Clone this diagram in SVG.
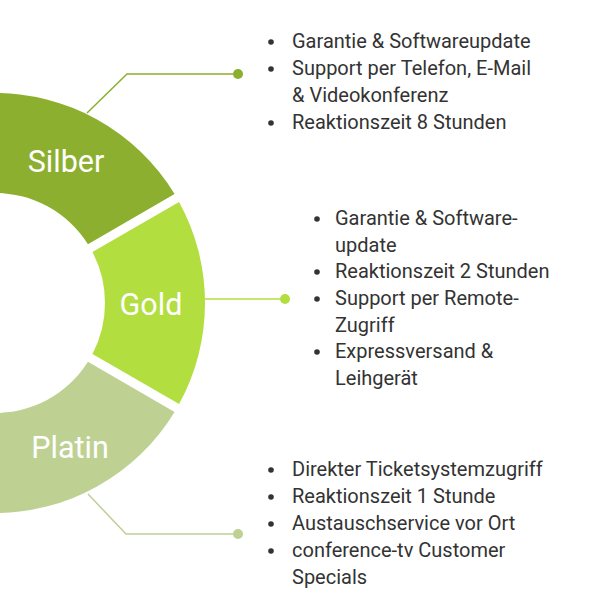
<svg xmlns="http://www.w3.org/2000/svg" width="600" height="600" viewBox="0 0 600 600">
<style>
.lbl{font-family:Roboto,"Liberation Sans",sans-serif;font-size:30.5px;fill:#ffffff;text-anchor:middle}
.txt{font-family:Roboto,"Liberation Sans",sans-serif;font-size:20px;fill:#333333}
.conn{fill:none;stroke-width:1.5}
</style>
<rect width="600" height="600" fill="#ffffff"/>
<g id="silber">
<path d="M -186.87 198 A 210 210 0 0 1 174.58 194.10 L 87.93 244.15 A 110 110 0 0 0 -100.26 248 Z" fill="#8CAF30"/>
<text class="lbl" x="66" y="172">Silber</text>
</g>
<g id="gold">
<path d="M 179.08 201.93 A 210 210 0 0 1 179.08 404.07 L 92.43 354.09 A 110 110 0 0 0 92.43 251.91 Z" fill="#B2DE3F"/>
<text class="lbl" x="151" y="315">Gold</text>
</g>
<g id="platin">
<path d="M 174.58 411.90 A 210 210 0 0 1 -186.87 408 L -100.26 358 A 110 110 0 0 0 87.93 361.85 Z" fill="#BED193"/>
<text class="lbl" x="70" y="458">Platin</text>
</g>
<g id="connectors">
<polyline class="conn" points="87,113 127,74 238,74" stroke="#8CAF30"/>
<circle cx="238" cy="74" r="5" fill="#8CAF30"/>
<polyline class="conn" points="205,299 285,299" stroke="#B2DE3F"/>
<circle cx="285" cy="299" r="5" fill="#B2DE3F"/>
<polyline class="conn" points="88,494 126,534 238,534" stroke="#BED193"/>
<circle cx="238" cy="534" r="5" fill="#BED193"/>
</g>
<g id="silber-list" fill="#333333">
<circle cx="271" cy="42" r="2.8"/>
<circle cx="271" cy="69" r="2.8"/>
<circle cx="271" cy="123" r="2.8"/>
<text class="txt" x="292" y="48">Garantie &amp; Softwareupdate</text>
<text class="txt" x="292" y="75">Support per Telefon, E-Mail</text>
<text class="txt" x="292" y="102">&amp; Videokonferenz</text>
<text class="txt" x="292" y="129">Reaktionszeit 8 Stunden</text>
</g>
<g id="gold-list" fill="#333333">
<circle cx="317" cy="219" r="2.8"/>
<circle cx="317" cy="272" r="2.8"/>
<circle cx="317" cy="299" r="2.8"/>
<circle cx="317" cy="352" r="2.8"/>
<text class="txt" x="335" y="225">Garantie &amp; Software-</text>
<text class="txt" x="335" y="252">update</text>
<text class="txt" x="335" y="278">Reaktionszeit 2 Stunden</text>
<text class="txt" x="335" y="305">Support per Remote-</text>
<text class="txt" x="335" y="332">Zugriff</text>
<text class="txt" x="335" y="358">Expressversand &amp;</text>
<text class="txt" x="335" y="385">Leihgerät</text>
</g>
<g id="platin-list" fill="#333333">
<circle cx="271" cy="470" r="2.8"/>
<circle cx="271" cy="497" r="2.8"/>
<circle cx="271" cy="524" r="2.8"/>
<circle cx="271" cy="551" r="2.8"/>
<text class="txt" x="292" y="476">Direkter Ticketsystemzugriff</text>
<text class="txt" x="292" y="503">Reaktionszeit 1 Stunde</text>
<text class="txt" x="292" y="530">Austauschservice vor Ort</text>
<text class="txt" x="292" y="557">conference-tv Customer</text>
<text class="txt" x="292" y="584">Specials</text>
</g>
</svg>
